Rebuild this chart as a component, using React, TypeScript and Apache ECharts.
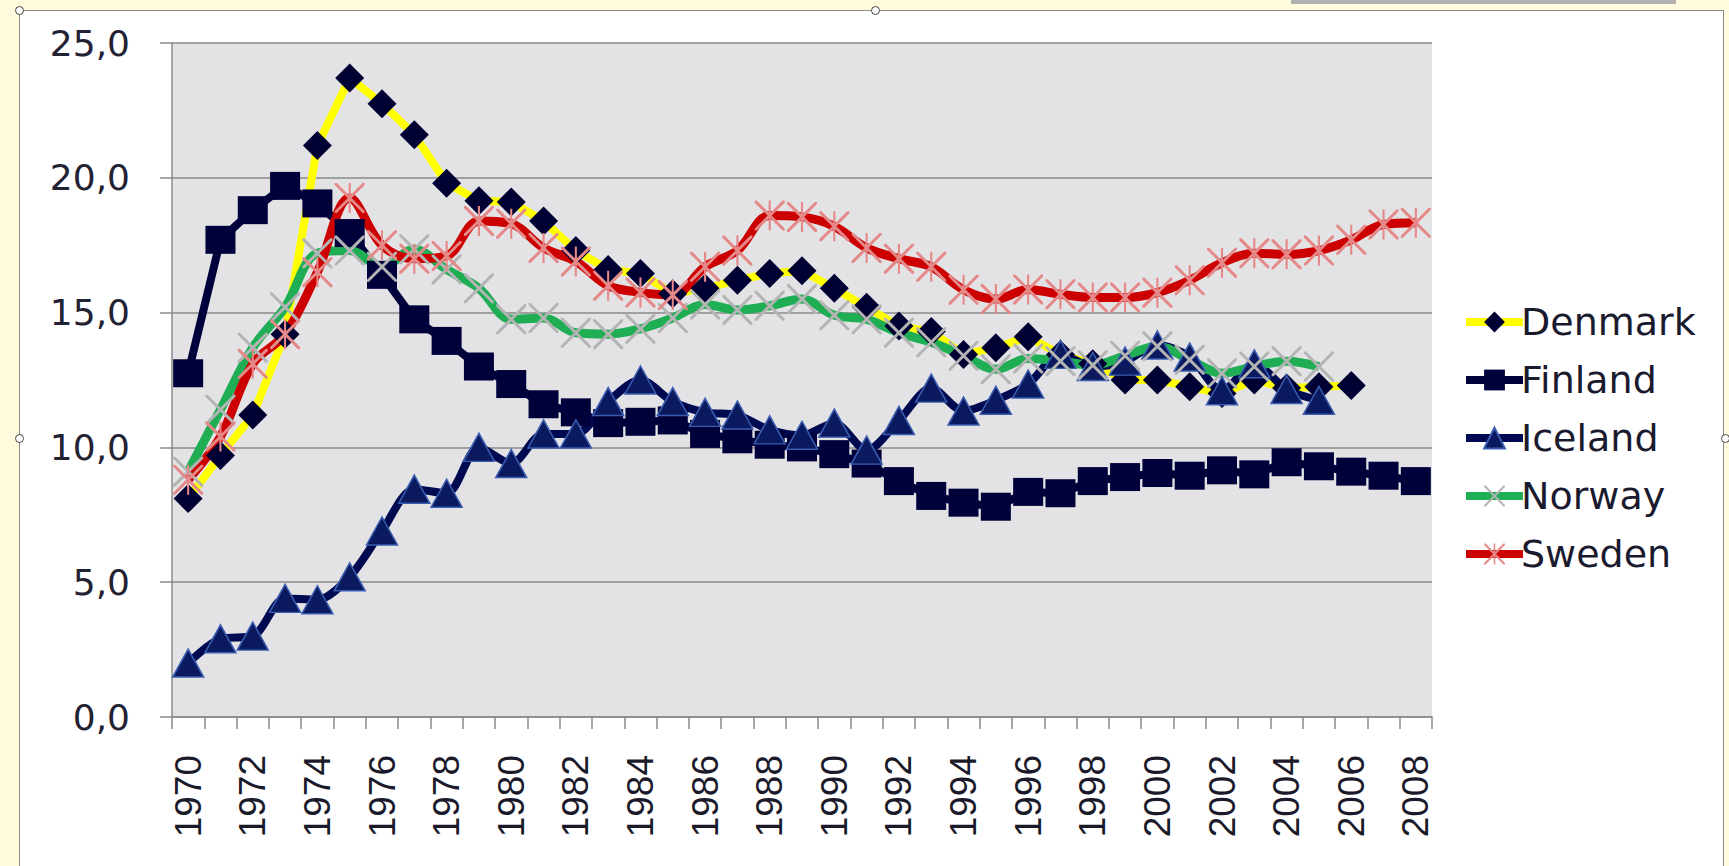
import React, { useEffect, useRef } from "react";
import * as echarts from "echarts";

const years = Array.from({ length: 39 }, (_, i) => String(1970 + i));

const denmark = [8.1, 9.7, 11.2, 14.2, 21.2, 23.7, 22.75, 21.6, 19.8, 19.15,
  19.1, 18.4, 17.3, 16.6, 16.45, 15.7, 15.9, 16.2, 16.45, 16.55,
  15.9, 15.2, 14.5, 14.3, 13.45, 13.7, 14.1, 13.45, 13.1, 12.5,
  12.5, 12.25, 12.0, 12.5, 12.2, 12.25, 12.3];
const finland = [12.75, 17.7, 18.8, 19.7, 19.05, 17.95, 16.4, 14.75, 13.95, 13.0,
  12.35, 11.6, 11.3, 10.9, 10.95, 11.0, 10.5, 10.3, 10.1, 10.0,
  9.75, 9.4, 8.75, 8.2, 7.95, 7.8, 8.35, 8.3, 8.75, 8.9,
  9.05, 8.95, 9.15, 9.0, 9.45, 9.3, 9.1, 8.95, 8.75];
const iceland = [2.0, 2.9, 3.0, 4.4, 4.35, 5.2, 6.9, 8.45, 8.3, 10.0,
  9.4, 10.5, 10.5, 11.7, 12.5, 11.7, 11.3, 11.2, 10.65, 10.45,
  10.9, 9.9, 11.0, 12.2, 11.35, 11.75, 12.35, 13.45, 13.0, 13.2,
  13.8, 13.35, 12.1, 13.1, 12.15, 11.75];
const norway = [9.1, 11.4, 13.7, 15.2, 17.2, 17.3, 16.7, 17.35, 16.6, 15.9,
  14.75, 14.8, 14.25, 14.2, 14.4, 14.8, 15.3, 15.1, 15.25, 15.5,
  14.9, 14.75, 14.25, 13.9, 13.4, 12.9, 13.3, 13.2, 13.05, 13.4,
  13.75, 13.25, 12.75, 13.0, 13.2, 13.0];
const sweden = [8.8, 10.4, 13.1, 14.2, 16.5, 19.25, 17.5, 17.0, 17.1, 18.4,
  18.3, 17.4, 16.9, 16.0, 15.75, 15.65, 16.7, 17.3, 18.6, 18.55,
  18.2, 17.4, 17.0, 16.7, 15.85, 15.5, 15.86, 15.68, 15.56, 15.56,
  15.74, 16.2, 16.85, 17.2, 17.16, 17.3, 17.7, 18.27, 18.33];

const X_PATH = "path://M0,0 L7,0 L100,93 L100,100 L93,100 L0,7 Z M100,0 L100,7 L7,100 L0,100 L0,93 L93,0 Z";
const STAR_PATH = "path://M0,0 L7,0 L100,93 L100,100 L93,100 L0,7 Z M100,0 L100,7 L7,100 L0,100 L0,93 L93,0 Z M46.5,0 L53.5,0 L53.5,100 L46.5,100 Z";

export default function App() {
  const ref = useRef<HTMLDivElement>(null);
  useEffect(() => {
    if (!ref.current) return;
    const chart = echarts.init(ref.current, undefined, { renderer: "svg" });
    chart.setOption({
      animation: false,
      backgroundColor: "transparent",
      grid: {
        left: 172,
        top: 43,
        right: 297,
        bottom: 149,
        show: true,
        backgroundColor: "#e3e3e6",
        borderWidth: 0,
      },
      legend: {
        orient: "vertical",
        left: 1457,
        top: 298,
        itemWidth: 57,
        itemHeight: 26,
        itemGap: 20,
        lineStyle: { width: 8 },
        textStyle: {
          fontFamily: "DejaVu Sans",
          fontSize: 38,
          lineHeight: 38,
          color: "#1a1a2e",
          padding: [0, 0, 0, -7],
        },
        data: ["Denmark", "Finland", "Iceland", "Norway", "Sweden"],
      },
      xAxis: {
        type: "category",
        data: years,
        boundaryGap: true,
        axisLine: { show: true, lineStyle: { color: "#8a8a8a", width: 1.5 } },
        axisTick: { show: true, interval: 0, length: 12, lineStyle: { color: "#8a8a8a", width: 1.5 } },
        axisLabel: {
          interval: 1,
          rotate: 90,
          margin: 38,
          fontFamily: "Liberation Sans",
          fontSize: 37,
          color: "#1a1a2a",
        },
      },
      yAxis: {
        type: "value",
        min: 0,
        max: 25,
        interval: 5,
        axisLine: { show: true, lineStyle: { color: "#8a8a8a", width: 1.5 } },
        axisTick: { show: true, length: 12, lineStyle: { color: "#8a8a8a", width: 1.5 } },
        splitLine: { show: true, lineStyle: { color: "#8a8a8a", width: 1.5 } },
        axisLabel: {
          margin: 42,
          fontFamily: "DejaVu Sans",
          fontSize: 36,
          color: "#222233",
          formatter: (v: number) => v.toFixed(1).replace(".", ","),
        },
      },
      series: [
        {
          name: "Denmark",
          type: "line",
          data: denmark,
          showAllSymbol: true,
          symbol: "diamond",
          symbolSize: 29,
          lineStyle: { color: "#ffff00", width: 8 },
          itemStyle: { color: "#000033" },
        },
        {
          name: "Finland",
          type: "line",
          data: finland,
          showAllSymbol: true,
          symbol: "rect",
          symbolSize: [30, 28],
          lineStyle: { color: "#00003a", width: 8 },
          itemStyle: { color: "#00003a" },
        },
        {
          name: "Iceland",
          type: "line",
          data: iceland,
          showAllSymbol: true,
          smooth: 0.3,
          symbol: "triangle",
          symbolSize: [31, 28],
          lineStyle: { color: "#000a50", width: 8 },
          itemStyle: { color: "#0b1a5e", borderColor: "#3a5cb0", borderWidth: 1.5 },
        },
        {
          name: "Norway",
          type: "line",
          data: norway,
          showAllSymbol: true,
          smooth: 0.35,
          symbol: X_PATH,
          symbolSize: 30,
          lineStyle: { color: "#1fae54", width: 9 },
          itemStyle: { color: "#b4b4b4" },
        },
        {
          name: "Sweden",
          type: "line",
          data: sweden,
          showAllSymbol: true,
          smooth: 0.35,
          symbol: STAR_PATH,
          symbolSize: 30,
          lineStyle: { color: "#cc0000", width: 9 },
          itemStyle: { color: "#e58888" },
        },
      ],
    });
    return () => chart.dispose();
  }, []);

  const handle = (x: number, y: number) => (
    <div
      key={`${x}-${y}`}
      style={{
        position: "absolute",
        left: x - 4,
        top: y - 4,
        width: 7,
        height: 7,
        borderRadius: "50%",
        border: "1px solid #444",
        background: "#fff",
      }}
    />
  );

  return (
    <div style={{ position: "fixed", left: 0, top: 0, width: 1729, height: 866, background: "#fffbdc", overflow: "hidden" }}>
      <div style={{ position: "absolute", left: 1291, top: 0, width: 385, height: 4, background: "#b0b0b0" }} />
      <div
        style={{
          position: "absolute",
          left: 19,
          top: 10,
          width: 1705,
          height: 860,
          background: "#ffffff",
          borderTop: "1.5px solid #8a8a8a",
          borderLeft: "1.5px solid #8a8a8a",
          borderRight: "1.5px solid #8a8a8a",
          boxSizing: "border-box",
        }}
      />
      {handle(19, 10)}
      {handle(875, 10)}
      {handle(19, 438)}
      {handle(1725, 438)}
      <div ref={ref} style={{ position: "absolute", left: 0, top: 0, width: 1729, height: 866 }} />
    </div>
  );
}
